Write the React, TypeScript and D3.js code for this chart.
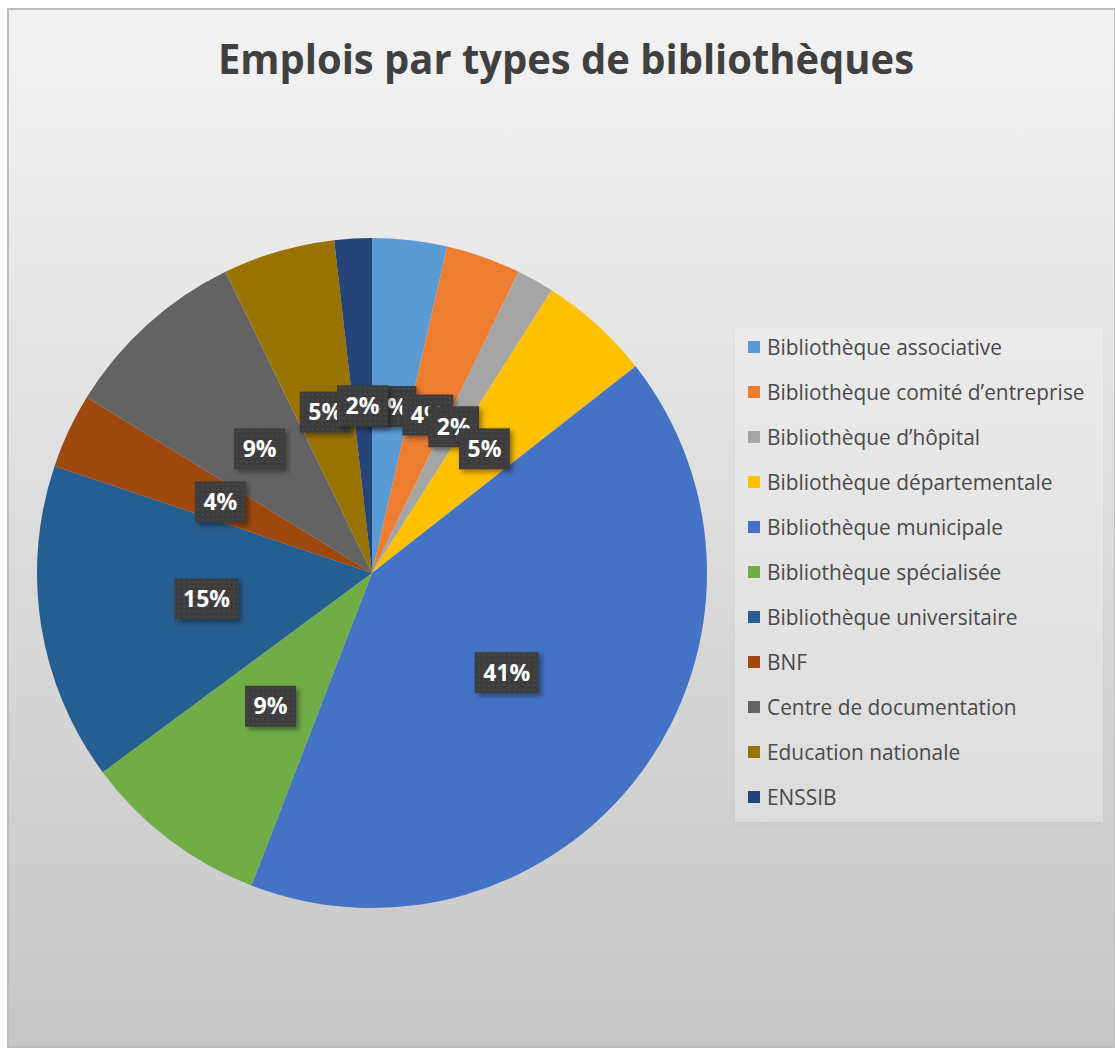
import { useEffect, useRef } from "react";
import * as d3 from "d3";

const title = "Emplois par types de bibliothèques";

const categories = [
  "Bibliothèque associative",
  "Bibliothèque comité d’entreprise",
  "Bibliothèque d’hôpital",
  "Bibliothèque départementale",
  "Bibliothèque municipale",
  "Bibliothèque spécialisée",
  "Bibliothèque universitaire",
  "BNF",
  "Centre de documentation",
  "Education nationale",
  "ENSSIB",
];

// number of job offers per library type
const counts = [4, 4, 2, 6, 46, 10, 17, 4, 10, 6, 2];

const sliceColors = [
  "#5B9BD5",
  "#ED7D31",
  "#A5A5A5",
  "#FFC000",
  "#4472C4",
  "#70AD47",
  "#255E91",
  "#9E480E",
  "#636363",
  "#997300",
  "#264478",
];

const W = 1115;
const H = 1048;

type Slice = { name: string; value: number; color: string };

export default function App() {
  const ref = useRef<SVGSVGElement | null>(null);

  useEffect(() => {
    let cancelled = false;

    const draw = (): void => {
      if (cancelled || !ref.current) return;
      const svg = d3.select(ref.current);
      svg.selectAll("*").remove();

      const defs = svg.append("defs");

      const bg = defs
        .append("linearGradient")
        .attr("id", "bg")
        .attr("x1", 0)
        .attr("y1", 0)
        .attr("x2", 0)
        .attr("y2", 1);
      bg.append("stop").attr("offset", "0%").attr("stop-color", "#f3f3f3");
      bg.append("stop").attr("offset", "100%").attr("stop-color", "#c6c6c6");

      const dots = defs
        .append("pattern")
        .attr("id", "dots")
        .attr("width", 5)
        .attr("height", 5)
        .attr("patternUnits", "userSpaceOnUse");
      dots.append("rect").attr("width", 5).attr("height", 5).attr("fill", "#3d3d3d");
      dots.append("circle").attr("cx", 2.5).attr("cy", 2.5).attr("r", 0.8).attr("fill", "#545454");

      const shadow = defs
        .append("filter")
        .attr("id", "shadow")
        .attr("x", "-30%")
        .attr("y", "-30%")
        .attr("width", "160%")
        .attr("height", "160%");
      shadow
        .append("feDropShadow")
        .attr("dx", 3)
        .attr("dy", 3)
        .attr("stdDeviation", 2.5)
        .attr("flood-color", "#000")
        .attr("flood-opacity", 0.4);

      const soft = defs.append("filter").attr("id", "soft").attr("y", "-10%").attr("height", "120%");
      soft
        .append("feDropShadow")
        .attr("dx", 0)
        .attr("dy", 2)
        .attr("stdDeviation", 2)
        .attr("flood-color", "#000")
        .attr("flood-opacity", 0.12);

      // chart area
      svg
        .append("rect")
        .attr("x", 8)
        .attr("y", 9)
        .attr("width", W - 8)
        .attr("height", H - 10)
        .attr("fill", "url(#bg)")
        .attr("stroke", "#bdbdbd")
        .attr("stroke-width", 2);

      svg
        .append("text")
        .attr("x", 566)
        .attr("y", 74)
        .attr("text-anchor", "middle")
        .attr("font-size", 41)
        .attr("font-weight", 700)
        .attr("fill", "#404040")
        .attr("textLength", 696)
        .attr("lengthAdjust", "spacingAndGlyphs")
        .text(title);

      const data: Slice[] = categories.map((name, i) => ({
        name,
        value: counts[i],
        color: sliceColors[i],
      }));
      const total = d3.sum(counts);

      const cx = 372;
      const cy = 573;
      const radius = 335;

      const pie = d3
        .pie<Slice>()
        .sort(null)
        .value((d) => d.value);
      const arcs = pie(data);
      const arc = d3.arc<d3.PieArcDatum<Slice>>().innerRadius(0).outerRadius(radius);

      const g = svg.append("g").attr("transform", `translate(${cx},${cy})`);
      g.selectAll("path")
        .data(arcs)
        .join("path")
        .attr("d", arc)
        .attr("fill", (d) => d.data.color);

      // data labels, drawn in order so later ones cover earlier ones
      arcs.forEach((a) => {
        const [lx, ly] = arc.centroid(a);
        const pct = `${Math.round((a.data.value / total) * 100)}%`;
        const lg = g.append("g").attr("transform", `translate(${lx},${ly})`);
        const rect = lg.append("rect").attr("fill", "url(#dots)").attr("filter", "url(#shadow)");
        const t = lg
          .append("text")
          .attr("text-anchor", "middle")
          .attr("y", 8)
          .attr("font-size", 23)
          .attr("font-weight", 700)
          .attr("fill", "#ffffff")
          .text(pct);
        const tw = (t.node() as SVGTextElement).getComputedTextLength();
        const bw = tw + 17;
        const bh = 41;
        rect
          .attr("x", -bw / 2)
          .attr("y", -bh / 2)
          .attr("width", bw)
          .attr("height", bh);
      });

      // legend
      svg
        .append("rect")
        .attr("x", 735)
        .attr("y", 328)
        .attr("width", 368)
        .attr("height", 494)
        .attr("fill", "#ffffff")
        .attr("fill-opacity", 0.3)
        .attr("filter", "url(#soft)");

      const rowY = d3
        .scalePoint<string>()
        .domain(categories)
        .range([347, 797]);

      const legend = svg.append("g");
      legend
        .selectAll("rect.key")
        .data(data)
        .join("rect")
        .attr("class", "key")
        .attr("x", 748)
        .attr("y", (d) => (rowY(d.name) ?? 0) - 6)
        .attr("width", 12)
        .attr("height", 12)
        .attr("fill", (d) => d.color);

      const lt = legend.append("g");
      lt.selectAll("text")
        .data(data)
        .join("text")
        .attr("x", 0)
        .attr("y", (d) => (rowY(d.name) ?? 0) + 8)
        .attr("font-size", 22.5)
        .attr("fill", "#4a4a4a")
        .text((d) => d.name);
      const first = lt.select("text").node() as SVGTextElement;
      const sx = 235 / first.getComputedTextLength();
      lt.attr("transform", `translate(767,0) scale(${sx},1)`);
    };

    document.fonts.ready.then(draw);
    return () => {
      cancelled = true;
    };
  }, []);

  return (
    <svg
      ref={ref}
      width={W}
      height={H}
      style={{
        position: "absolute",
        left: 0,
        top: 0,
        display: "block",
        fontFamily: "'Open Sans', sans-serif",
      }}
    />
  );
}
